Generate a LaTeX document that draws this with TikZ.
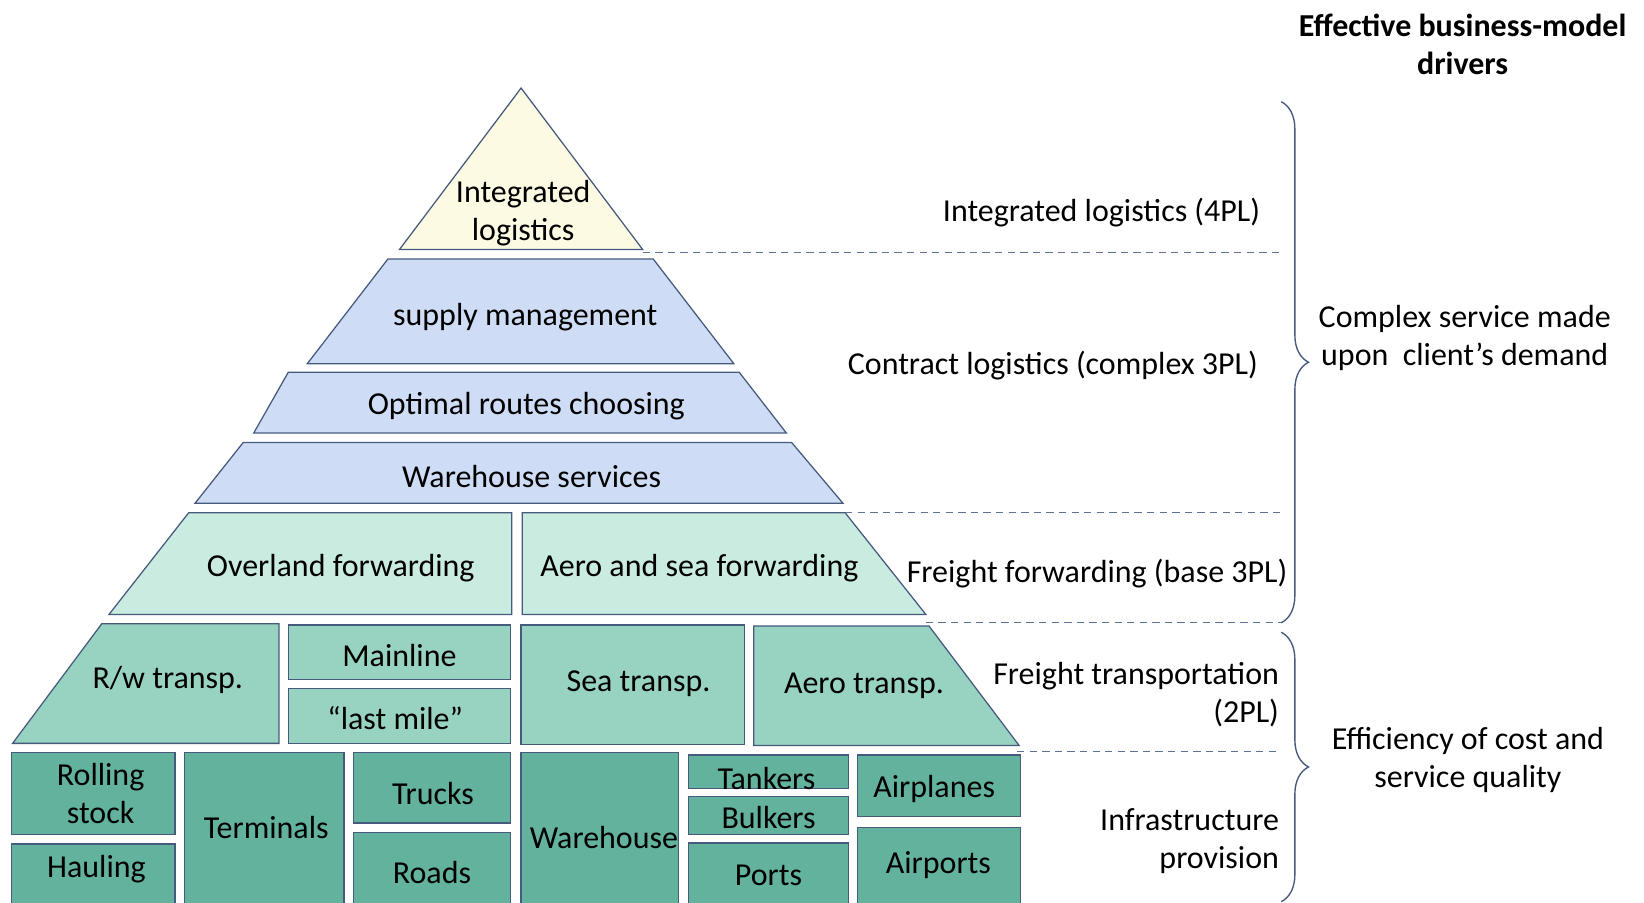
\documentclass[tikz,border=0pt]{standalone}
\usepackage{fontspec}
\setmainfont{Carlito}
\usetikzlibrary{decorations.pathreplacing}
\definecolor{tri}{RGB}{252,250,226}
\definecolor{blu}{RGB}{206,221,245}
\definecolor{fwd}{RGB}{202,235,223}
\definecolor{trn}{RGB}{152,210,192}
\definecolor{inf}{RGB}{98,178,158}
\definecolor{edge}{RGB}{70,90,125}
\definecolor{dashc}{RGB}{95,115,150}
\begin{document}
\begin{tikzpicture}[x=1pt,y=-1pt,
  blk/.style={draw=edge,line width=1.2pt},
  lbl/.style={font=\fontsize{30.5}{36}\selectfont,align=center,inner sep=0pt,yshift=-2.5pt},
  rlbl/.style={lbl,align=right,anchor=east},
  dsh/.style={draw=dashc,dash pattern=on 7pt off 5pt,line width=1.2pt},
  brc/.style={draw=edge,line width=1.3pt,decorate,decoration={brace,amplitude=26pt}}]
\useasboundingbox (0,0) rectangle (1568,861);
\clip (0,0) rectangle (1568,861);
% top triangle
\path[blk,fill=tri] (497,84) -- (613,238) -- (381,238) -- cycle;
\node[lbl] (il) at (499,201) {Integrated\\logistics};
% blue layers
\path[blk,fill=blu] (370,247) -- (623,247) -- (700,347) -- (293,347) -- cycle;
\node[lbl] (sm) at (501,300) {supply management};
\path[blk,fill=blu] (275,355) -- (705,355) -- (750,413) -- (242,413) -- cycle;
\node[lbl] (or) at (502,385) {Optimal routes choosing};
\path[blk,fill=blu] (232,422) -- (755,422) -- (804,480) -- (186,480) -- cycle;
\node[lbl] (ws) at (507,452) {Warehouse services};
% forwarding
\path[blk,fill=fwd] (180,489) -- (488,489) -- (488,586) -- (104,586) -- cycle;
\node[lbl] (of) at (325,539) {Overland forwarding};
\path[blk,fill=fwd] (498,489) -- (806,489) -- (883,586) -- (498,586) -- cycle;
\node[lbl] (af) at (667,539) {Aero and sea forwarding};
% transportation
\path[blk,fill=trn] (97,595) -- (266,595) -- (266,709) -- (12,709) -- cycle;
\node[lbl] (rw) at (160,646) {R/w transp.};
\path[blk,fill=trn] (275,596) rectangle (487,648);
\node[lbl] (ml) at (381,623) {Mainline};
\path[blk,fill=trn] (275,657) rectangle (487,709);
\node[lbl] (lm) at (377,682) {“last mile”};
\path[blk,fill=trn] (497,596) rectangle (710,710);
\node[lbl] (st) at (609,650) {Sea transp.};
\path[blk,fill=trn] (719,597) -- (886,597) -- (972,711) -- (719,711) -- cycle;
\node[lbl] (at) at (824,652) {Aero transp.};
% infrastructure
\path[blk,fill=inf] (11,718) rectangle (167,796);
\node[lbl] (rs) at (96,754) {Rolling\\stock};
\path[blk,fill=inf] (11,805) rectangle (167,880);
\node[lbl] (ha) at (92,826) {Hauling};
\path[blk,fill=inf] (176,718) rectangle (328,880);
\node[lbl] (te) at (254,787) {Terminals};
\path[blk,fill=inf] (337,718) rectangle (487,785);
\node[lbl] (tr) at (413,754) {Trucks};
\path[blk,fill=inf] (337,794) rectangle (487,880);
\node[lbl] (ro) at (412,830) {Roads};
\path[blk,fill=inf] (497,718) rectangle (647,880);
\node[lbl] (wh) at (576,796) {Warehouse};
\path[blk,fill=inf] (657,720) rectangle (809,752);
\node[lbl] (tk) at (731,740) {Tankers};
\path[blk,fill=inf] (657,760) rectangle (809,796);
\node[lbl] (bu) at (733,777) {Bulkers};
\path[blk,fill=inf] (657,804) rectangle (809,880);
\node[lbl] (po) at (733,832) {Ports};
\path[blk,fill=inf] (818,720) rectangle (973,779);
\node[lbl] (ap) at (891,750) {Airplanes};
\path[blk,fill=inf] (818,789) rectangle (973,880);
\node[lbl] (apt) at (895,823) {Airports};
% dashed separators
\coordinate (d1a) at (613,241); \coordinate (d1b) at (1220,241);
\coordinate (d2a) at (806,489); \coordinate (d2b) at (1222,489);
\coordinate (d3a) at (883,594); \coordinate (d3b) at (1224,594);
\coordinate (d4a) at (970,717); \coordinate (d4b) at (1220,717);
\draw[dsh] (d1a) -- (d1b);
\draw[dsh] (d2a) -- (d2b);
\draw[dsh] (d3a) -- (d3b);
\draw[dsh] (d4a) -- (d4b);
% level labels
\node[rlbl] (l4) at (1202,200) {Integrated logistics (4PL)};
\node[rlbl] (l3c) at (1200,346) {Contract logistics (complex 3PL)};
\node[rlbl] (l3b) at (1228,545) {Freight forwarding (base 3PL)};
\node[rlbl] (l2) at (1220,660) {Freight transportation\\(2PL)};
\node[rlbl] (l1) at (1220,800) {Infrastructure\\provision};
% braces
\coordinate (b1t) at (1222,97); \coordinate (b1b) at (1222,594);
\coordinate (b2t) at (1222,603); \coordinate (b2b) at (1222,860);
\draw[brc] (b1t) -- (b1b);
\draw[brc] (b2t) -- (b2b);
% driver labels
\node[lbl] (title) at (1395,40) {\bfseries Effective business-model\\\bfseries drivers};
\node[lbl] (d1) at (1397,320) {Complex service made\\upon\ \ client’s demand};
\node[lbl] (d2) at (1400,722) {Efficiency of cost and\\service quality};
\end{tikzpicture}
\end{document}
